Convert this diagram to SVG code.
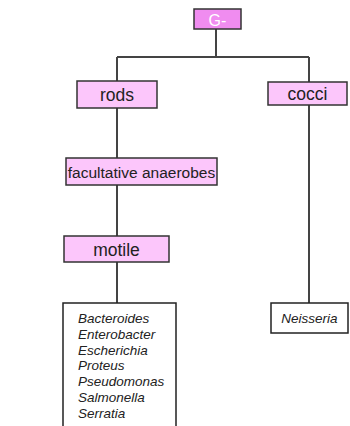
<svg xmlns="http://www.w3.org/2000/svg" width="350" height="426" viewBox="0 0 350 426">
<style>
.box{fill:#fcc6fb;stroke:#333;stroke-width:1.5}
.top{fill:#f08cf0;stroke:#333;stroke-width:1.5}
.wbox{fill:#fff;stroke:#222;stroke-width:1.5}
.lbl{font-family:"Liberation Sans",Arial,sans-serif;font-size:17.5px;fill:#222;text-anchor:middle}
.it{font-family:"Liberation Sans",Arial,sans-serif;font-size:13.5px;font-style:italic;fill:#222}
.ln{stroke:#444;stroke-width:2;fill:none}
</style>
<rect width="350" height="426" fill="#fff"/>
<g id="connectors">
<path class="ln" d="M216 29V57M117 57H309M117 57V81M309 57V82M117 108V158M117 185V236M117 262V303M309 105V303"/>
</g>
<g id="g-minus"><rect class="top" x="194" y="9" width="47" height="20"/><text class="lbl" x="217.5" y="25.5" style="fill:#fff;font-size:16px">G-</text></g>
<g id="rods"><rect class="box" x="77" y="81" width="80" height="27"/><text class="lbl" x="117" y="101">rods</text></g>
<g id="cocci"><rect class="box" x="268" y="82" width="79" height="23"/><text class="lbl" x="307.5" y="99.5">cocci</text></g>
<g id="facultative"><rect class="box" x="66" y="158" width="151" height="27"/><text class="lbl" x="141.5" y="177.5" style="font-size:15.5px">facultative anaerobes</text></g>
<g id="motile"><rect class="box" x="64" y="236" width="105" height="26"/><text class="lbl" x="116.5" y="255.5">motile</text></g>
<g id="rods-list"><path class="wbox" d="M63 430V303H176V430"/>
<text class="it" x="78" y="323">Bacteroides</text>
<text class="it" x="78" y="338.8">Enterobacter</text>
<text class="it" x="78" y="354.6">Escherichia</text>
<text class="it" x="78" y="370.4">Proteus</text>
<text class="it" x="78" y="386.2">Pseudomonas</text>
<text class="it" x="78" y="402">Salmonella</text>
<text class="it" x="78" y="417.8">Serratia</text>
</g>
<g id="neisseria"><rect class="wbox" x="271" y="303" width="77" height="30"/><text class="it" x="309.5" y="322.5" text-anchor="middle">Neisseria</text></g>
</svg>
